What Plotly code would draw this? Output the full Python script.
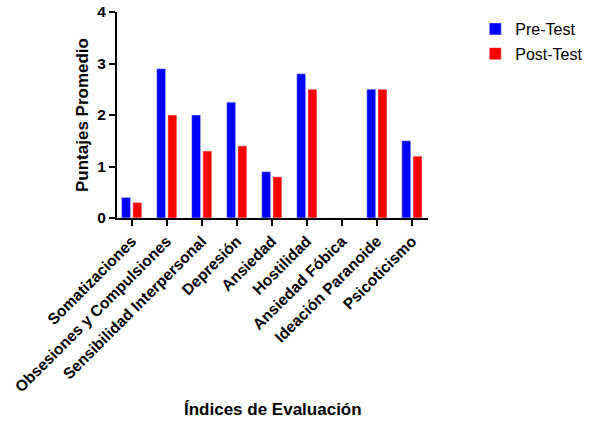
import plotly.graph_objects as go

categorias = ["Somatizaciones", "Obsesiones y Compulsiones", "Sensibilidad Interpersonal",
              "Depresión", "Ansiedad", "Hostilidad", "Ansiedad Fóbica",
              "Ideación Paranoide", "Psicoticismo"]
pre_test = [0.4, 2.9, 2.0, 2.25, 0.9, 2.8, 0, 2.5, 1.5]
post_test = [0.3, 2.0, 1.3, 1.4, 0.8, 2.5, 0, 2.5, 1.2]

fuente = "Arial, Liberation Sans, sans-serif"

fig = go.Figure()
fig.add_trace(go.Bar(x=categorias, y=pre_test, name="Pre-Test",
                     marker_color="#0000ff", legendgroup="a"))
fig.add_trace(go.Bar(x=categorias, y=post_test, name="Post-Test",
                     marker_color="#ff0000", legendgroup="b"))

fig.update_layout(
    width=590, height=423,
    margin=dict(l=117, r=162, t=12, b=205, autoexpand=False),
    plot_bgcolor="white", paper_bgcolor="white",
    barmode="group", bargap=0.36, bargroupgap=0.2,
    font=dict(family=fuente, color="black"),
    legend=dict(x=1.152, y=1.0, xanchor="left", yanchor="top",
                font=dict(size=16, family=fuente), tracegroupgap=1),
    showlegend=True,
)

fig.update_xaxes(
    range=[-0.42, 8.46], showline=True, linewidth=2, linecolor="black",
    ticks="outside", ticklen=6, tickwidth=2, tickcolor="black",
    tickangle=-45, tickfont=dict(size=15.6, family=fuente, weight="bold"),
    showgrid=False, automargin=False,
)
fig.update_yaxes(
    range=[0, 4], tickvals=[0, 1, 2, 3, 4], showline=True, linewidth=2,
    linecolor="black", ticks="outside", ticklen=6, tickwidth=2, tickcolor="black",
    tickfont=dict(size=15.5, family=fuente, weight="bold"), showgrid=False,
    zeroline=False, automargin=False,
    title=dict(text="Puntajes Promedio", font=dict(size=17, family=fuente, weight="bold"),
               standoff=4),
)

fig.add_annotation(text="<b>Índices de Evaluación</b>", xref="paper", yref="paper",
                   x=0.5, y=-0.932, xanchor="center", yanchor="middle",
                   showarrow=False, font=dict(size=17, family=fuente))

# drop the page's default body margin so the figure sits at the window corner
fig.write_html("out.html", config={"displayModeBar": False},
               post_script="document.body.style.margin='0';")
